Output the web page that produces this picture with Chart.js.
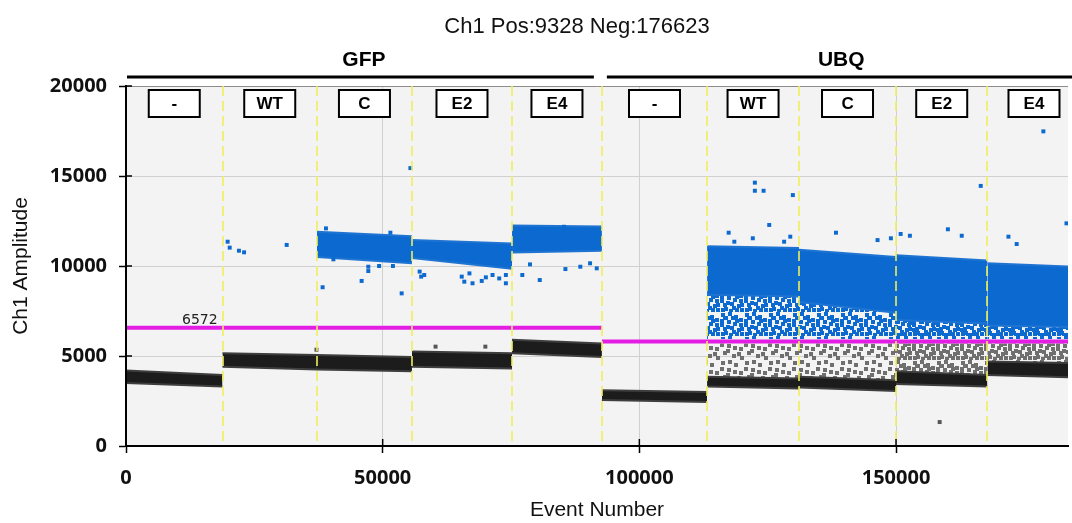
<!DOCTYPE html>
<html>
<head>
<meta charset="utf-8">
<title>Ch1 Amplitude</title>
<script src="https://cdn.jsdelivr.net/npm/chart.js@4.4.1/dist/chart.umd.min.js"></script>
<style>
  html, body { margin: 0; padding: 0; background: #fff; }
  #wrap { position: relative; width: 1072px; height: 523px; }
</style>
</head>
<body>
<div id="wrap"><canvas id="ampChart"></canvas></div>
<script>
// ---- values ----
var chartTitle = 'Ch1 Pos:9328 Neg:176623';
var groupNames = ['GFP', 'UBQ'];
var groupEdges = [0, 92700, 185951];
var thresholds = [6572, 5800];            // one per group
var wellNames = ['-', 'WT', 'C', 'E2', 'E4', '-', 'WT', 'C', 'E2', 'E4'];
var wellEdges = [0, 18800, 37200, 55700, 75200, 92700, 113200, 131100, 150000, 167800, 185951];
var xTicks = [0, 50000, 100000, 150000];
var yTicks = [0, 5000, 10000, 15000, 20000];
var xMax = 183500;

// cluster envelopes per well: [amplitude at well start, amplitude at well end]
var negHigh = [[4200, 3950], [5150, 5050], [5050, 4950], [5250, 5150], [5900, 5700],
               [3100, 3000], [3850, 3750], [3850, 3650], [4150, 3950], [4700, 4600]];
var negLow  = [[3500, 3300], [4400, 4250], [4250, 4150], [4400, 4300], [5150, 4950],
               [2550, 2450], [3300, 3200], [3250, 3050], [3450, 3300], [3950, 3800]];
var posHigh = [null, null, [11900, 11650], [11450, 11250], [12250, 12200],
               null, [11100, 11000], [10900, 10500], [10600, 10300], [10150, 9950]];
var posLow  = [null, null, [10500, 10150], [10450, 9850], [10750, 10850],
               null, [8400, 8300], [8000, 7400], [7000, 6800], [6700, 6600]];
// loose droplets between the clusters (UBQ wells only)
var sparseLow = [null, null, null, null, null, null, [5950, 5950], [5950, 5950], [5950, 5950], [5950, 5950]];
var rainHigh  = [null, null, null, null, null, null, [5700, 5700], [5700, 5700], [5700, 5700], [5700, 5700]];
var rainClass = [0, 0, 0, 0, 0, 0, 1, 1, 2, 2];   // how crowded the loose droplets look

// single droplets away from the clusters [event, amplitude]
var posOutliers = [
  [19800, 11350], [20200, 11020], [22000, 10850], [23000, 10760], [31300, 11170],
  [38950, 12090], [38300, 8820], [40400, 10370], [45900, 9170], [47200, 9720], [47200, 9960],
  [49300, 10000], [51500, 11850], [52000, 10000], [53700, 8480], [55400, 15440],
  [57500, 9410], [58100, 9500], [57200, 9690], [65400, 9410], [65900, 9130], [66900, 9590],
  [67500, 9040], [69300, 9170], [70100, 9370], [71400, 9500], [72700, 9310], [74000, 9040], [74000, 9500],
  [77200, 9500], [78700, 10090], [80600, 9220], [85300, 12180], [85600, 9830], [88500, 9960],
  [90400, 10150], [91700, 9870],
  [122500, 14630], [122500, 14180], [124200, 14180], [129900, 13940], [125300, 12280],
  [117400, 11850], [118500, 11350], [122100, 11540], [129400, 11630], [128200, 11350],
  [138300, 11850], [146400, 11440], [149000, 11540],
  [150900, 11780], [152700, 11680], [158100, 18560], [160100, 12040], [162800, 11680], [166500, 14450],
  [171900, 11630], [173500, 11220], [178700, 17480], [183200, 12370]
];
var negOutliers = [[37100, 5350], [60300, 5520], [70000, 5520], [158500, 1330]];

// ---- styles ----
var BLUE = '#0b69cf';
var canvas = document.getElementById('ampChart');
var ctx0 = canvas.getContext('2d');

// small tiled speckle used for the loose droplet areas
function speckle(color, cells) {
  var tile = document.createElement('canvas');
  tile.width = 24;
  tile.height = 24;
  var t = tile.getContext('2d');
  t.fillStyle = color;
  cells.forEach(function (c) { t.fillRect(c[0], c[1], 4, 4); });
  return ctx0.createPattern(tile, 'repeat');
}
var fewCells = [[1, 1], [14, 3], [7, 8], [19, 11], [3, 15], [12, 18], [20, 20]];
var midCells = fewCells.concat([[8, 0], [0, 7], [13, 10], [6, 13], [17, 16]]);
var mostCells = midCells.concat([[19, 6], [9, 21], [1, 20], [3, 4], [4, 4], [15, 7], [10, 14],
                                 [20, 15], [4, 19], [15, 20], [11, 4], [0, 11]]);
var denseCells = mostCells.concat([[8, 8], [16, 0], [0, 16], [12, 22], [20, 9], [6, 21]]);
var rainFill = [null, speckle('#6f6f6f', midCells), speckle('#6f6f6f', mostCells)];
var sparseFill = [null, speckle(BLUE, mostCells), speckle(BLUE, denseCells)];

// ---- datasets ----
var datasets = [];

// thresholds on top
groupNames.forEach(function (g, i) {
  datasets.push({
    type: 'line', label: g + ' threshold', order: 0,
    data: [{ x: groupEdges[i], y: thresholds[i] }, { x: groupEdges[i + 1], y: thresholds[i] }],
    borderColor: '#e41de4', borderWidth: 4, pointRadius: 0, fill: false
  });
});

datasets.push({
  label: 'positive droplets', order: 1,
  data: posOutliers.map(function (p) { return { x: p[0], y: p[1] }; }),
  pointStyle: 'rect', pointRadius: 2.8, pointBorderWidth: 0, backgroundColor: BLUE
});
datasets.push({
  label: 'negative droplets', order: 1,
  data: negOutliers.map(function (p) { return { x: p[0], y: p[1] }; }),
  pointStyle: 'rect', pointRadius: 2.8, pointBorderWidth: 0, backgroundColor: '#555'
});

// a band = upper edge line + lower edge line filled to it
function addBand(well, hi, lo, fillColor, edgeColor, order) {
  var a = wellEdges[well], b = wellEdges[well + 1];
  datasets.push({
    type: 'line', order: order, pointRadius: 0, fill: false,
    borderColor: edgeColor, borderWidth: 2,
    data: [{ x: a, y: hi[0] }, { x: b, y: hi[1] }]
  });
  datasets.push({
    type: 'line', order: order, pointRadius: 0, fill: '-1',
    borderColor: edgeColor, borderWidth: 2, backgroundColor: fillColor,
    data: [{ x: a, y: lo[0] }, { x: b, y: lo[1] }]
  });
}

for (var w = 0; w < wellNames.length; w++) {
  if (posHigh[w]) addBand(w, posHigh[w], posLow[w], BLUE, '#1f74d2', 2);
  addBand(w, negHigh[w], negLow[w], '#1c1c1c', '#3e3e3e', 3);
  if (sparseLow[w]) addBand(w, posLow[w], sparseLow[w], sparseFill[rainClass[w]], 'transparent', 4);
  if (rainHigh[w]) addBand(w, rainHigh[w], negHigh[w], rainFill[rainClass[w]], 'transparent', 4);
}

// ---- frame, labels and boxes ----
var decorPlugin = {
  id: 'decor',
  beforeDraw: function (chart) {
    var a = chart.chartArea, c = chart.ctx;
    c.save();
    c.fillStyle = '#f3f3f3';
    c.fillRect(a.left, a.top, a.right - a.left, a.bottom - a.top);
    c.restore();
  },
  afterDatasetsDraw: function (chart) {
    var a = chart.chartArea, c = chart.ctx;
    var xs = chart.scales.x, ys = chart.scales.y;
    c.save();
    // dashed well separators
    c.strokeStyle = 'rgba(238, 238, 90, 0.8)';
    c.lineWidth = 2;
    c.setLineDash([10, 5]);
    for (var i = 1; i < wellEdges.length - 1; i++) {
      var px = Math.round(xs.getPixelForValue(wellEdges[i]));
      c.beginPath();
      c.moveTo(px, a.top);
      c.lineTo(px, a.bottom);
      c.stroke();
    }
    c.setLineDash([]);
    // axes and the inner half of each tick mark
    c.strokeStyle = '#000';
    c.lineWidth = 2;
    c.beginPath();
    c.moveTo(a.left, a.top);
    c.lineTo(a.left, a.bottom);
    c.lineTo(a.right, a.bottom);
    c.stroke();
    c.lineWidth = 1.5;
    yTicks.forEach(function (v) {
      var py = ys.getPixelForValue(v);
      c.beginPath(); c.moveTo(a.left, py); c.lineTo(a.left + 6, py); c.stroke();
    });
    xTicks.forEach(function (v) {
      var px = xs.getPixelForValue(v);
      c.beginPath(); c.moveTo(px, a.bottom); c.lineTo(px, a.bottom - 7); c.stroke();
    });
    c.restore();
  },
  afterDraw: function (chart) {
    var a = chart.chartArea, c = chart.ctx;
    var xs = chart.scales.x, ys = chart.scales.y;
    c.save();
    c.textAlign = 'center';
    c.textBaseline = 'middle';

    // title
    c.fillStyle = '#111';
    c.font = '22px "Liberation Sans", Arial, sans-serif';
    c.fillText(chartTitle, 577, 27);

    // group names with their bars
    c.font = 'bold 21px "Liberation Sans", Arial, sans-serif';
    c.fillStyle = '#000';
    c.strokeStyle = '#000';
    c.lineWidth = 3;
    groupNames.forEach(function (g, i) {
      var x0 = xs.getPixelForValue(groupEdges[i]) + (i > 0 ? 5 : 1);
      var x1 = xs.getPixelForValue(groupEdges[i + 1]) - 8;
      c.beginPath();
      c.moveTo(x0, 77);
      c.lineTo(x1, 77);
      c.stroke();
      c.fillText(g, (xs.getPixelForValue(groupEdges[i]) + xs.getPixelForValue(groupEdges[i + 1])) / 2, 60);
    });

    // well name boxes
    c.font = 'bold 17px "Liberation Sans", Arial, sans-serif';
    c.lineWidth = 2;
    wellNames.forEach(function (name, i) {
      var cx = (xs.getPixelForValue(wellEdges[i]) + xs.getPixelForValue(wellEdges[i + 1])) / 2;
      var top = a.top + 4;
      c.fillStyle = '#fff';
      c.fillRect(cx - 25.5, top, 51, 27);
      c.strokeRect(cx - 25.5, top, 51, 27);
      c.fillStyle = '#000';
      c.fillText(name, cx, top + 14);
    });

    // threshold value of the first group
    c.font = '14px "DejaVu Sans", sans-serif';
    c.fillStyle = '#222';
    c.textAlign = 'left';
    c.textBaseline = 'alphabetic';
    c.fillText(String(thresholds[0]), xs.getPixelForValue(groupEdges[0]) + 56, ys.getPixelForValue(thresholds[0]) - 4);
    c.restore();
  }
};

var tickFont = { family: '"Open Sans", sans-serif', size: 20, weight: 'bold' };
var titleFont = { family: '"Liberation Sans", Arial, sans-serif', size: 21 };

var ampChart = new Chart(ctx0, {
  type: 'scatter',
  data: { datasets: datasets },
  options: {
    responsive: true,
    maintainAspectRatio: false,
    animation: false,
    events: [],
    layout: { padding: { top: 86, right: 0, bottom: 0, left: 0 } },
    plugins: {
      legend: { display: false },
      tooltip: { enabled: false },
      title: { display: false }
    },
    scales: {
      x: {
        type: 'linear',
        min: 0,
        max: xMax,
        afterBuildTicks: function (s) { s.ticks = xTicks.map(function (v) { return { value: v }; }); },
        afterFit: function (s) { s.height = 77; },
        ticks: {
          callback: function (v) { return String(v); },
          font: tickFont, color: '#111', padding: 13, maxRotation: 0, autoSkip: false
        },
        grid: { color: '#d0d0d0', tickColor: '#000', tickLength: 7, tickWidth: 1.5 },
        border: { color: '#000', width: 2 },
        title: { display: true, text: 'Event Number', font: titleFont, color: '#111', padding: { top: 0, bottom: 0 } }
      },
      y: {
        min: 0,
        max: 20000,
        afterBuildTicks: function (s) { s.ticks = yTicks.map(function (v) { return { value: v }; }); },
        afterFit: function (s) { s.width = 126; },
        ticks: {
          callback: function (v) { return String(v); },
          font: tickFont, color: '#111', padding: 12
        },
        grid: {
          color: function (c) { return c.tick && c.tick.value === 20000 ? '#8c8c8c' : '#d0d0d0'; },
          tickColor: '#000', tickLength: 7, tickWidth: 1.5
        },
        border: { color: '#000', width: 2 },
        title: { display: true, text: 'Ch1 Amplitude', font: titleFont, color: '#111', padding: { top: 9, bottom: 0 } }
      }
    }
  },
  plugins: [decorPlugin]
});
</script>
</body>
</html>
